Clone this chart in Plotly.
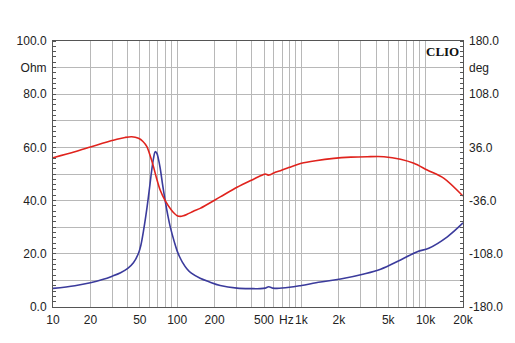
import numpy as np
import plotly.graph_objects as go

# Impedance magnitude (Ohm, left axis)
imp_freq = [10, 15, 20, 25, 30, 35, 40, 44.4, 48.8, 51, 53.5, 56, 58.5, 60.5, 62.4, 64.5,
            66.5, 68.5, 70.5, 72.9, 76, 80, 84, 87.8, 95, 100, 105, 110, 120, 130, 153,
            180, 222, 303, 400, 467, 510, 545, 590, 636, 800, 1000, 1423, 2065, 3187,
            4339, 6285, 8570, 10600, 14960, 20000]
imp_ohm = [7.0, 8.0, 9.1, 10.3, 11.6, 12.9, 14.5, 16.6, 20.2, 23.2, 28.5, 34.5, 41.0, 46.5,
           51.5, 56.0, 58.4, 57.8, 55.8, 52.3, 46.5, 40.0, 34.5, 30.2, 24.3, 21.0, 18.7,
           16.9, 14.3, 12.7, 10.8, 9.5, 8.1, 7.1, 6.9, 6.9, 7.1, 7.6, 7.1, 7.0, 7.4, 8.1,
           9.4, 10.5, 12.4, 14.2, 17.7, 20.8, 22.1, 26.4, 31.6]

# Impedance phase (deg, right axis)
ph_freq = [10, 15, 20, 25, 32.7, 38, 43, 48.8, 53, 57, 60.5, 64.4, 68, 72.9, 80, 90, 95,
           100, 106, 112, 120, 135, 153, 222, 303, 412, 490, 512, 540, 560, 600, 678, 800,
           1000, 1300, 1820, 2500, 3389, 4616, 6285, 8052, 10300, 14060, 20000]
ph_deg = [22, 30, 36.5, 41.5, 47, 49.5, 50.5, 48.3, 44, 37, 25, 10, -5, -21.6, -36, -49,
          -53.5, -56.5, -57.3, -56.5, -54.5, -50.5, -46.5, -31, -18, -7, -1, 0, -1.5, -1,
          1.5, 4.5, 9, 14.5, 18, 21.2, 22.8, 23.4, 23.4, 20, 14.5, 5.4, -5.8, -29.8]

# Frequency grid: 1..9 per decade from 10 Hz to 20 kHz
x_labels = {10: "10", 20: "20", 50: "50", 100: "100", 200: "200", 500: "500",
            1000: "1k", 2000: "2k", 5000: "5k", 10000: "10k", 20000: "20k"}
x_grid = [m * 10 ** d for d in range(1, 5) for m in range(1, 10) if m * 10 ** d <= 20000]
x_text = [x_labels.get(v, "") for v in x_grid]

y_vals = list(range(0, 101, 10))
y_text = ["0.0", "", "20.0", "", "40.0", "", "60.0", "", "80.0", "Ohm", "100.0"]

y2_vals = list(range(-180, 181, 36))
y2_text = ["-180.0", "", "-108.0", "", "-36.0", "", "36.0", "", "108.0", "deg", "180.0"]

font_main = dict(family="Liberation Sans, Arial, sans-serif", size=12, color="#222222")
grid_col = "#b8b8b8"
axis_col = "#555555"

fig = go.Figure()
fig.add_trace(go.Scatter(x=imp_freq, y=imp_ohm, mode="lines", yaxis="y",
                         line=dict(color="#3b3b9c", width=1.6, shape="spline", smoothing=1.0),
                         showlegend=False, hoverinfo="skip"))
fig.add_trace(go.Scatter(x=ph_freq, y=ph_deg, mode="lines", yaxis="y2",
                         line=dict(color="#e0231d", width=1.6, shape="spline", smoothing=0.8),
                         showlegend=False, hoverinfo="skip"))

fig.update_layout(
    width=515, height=343,
    margin=dict(l=53, r=50, t=41, b=36),
    paper_bgcolor="white", plot_bgcolor="white",
    font=font_main,
    xaxis=dict(type="log", range=[1, np.log10(20000)], tickmode="array",
               tickvals=x_grid, ticktext=x_text, showgrid=True, gridcolor=grid_col,
               gridwidth=1, ticks="", showline=True, linecolor=axis_col, linewidth=1,
               mirror=True, zeroline=False, tickfont=font_main, ticklabelstandoff=2),
    yaxis=dict(range=[0, 100], tickmode="array", tickvals=y_vals, ticktext=y_text,
               showgrid=True, gridcolor=grid_col, gridwidth=1, ticks="",
               showline=True, linecolor=axis_col, linewidth=1, mirror=True,
               zeroline=False, tickfont=font_main, ticklabelstandoff=3,
               minor=dict(dtick=2, ticks="inside", ticklen=3, tickcolor=axis_col,
                          showgrid=False)),
    yaxis2=dict(range=[-180, 180], overlaying="y", side="right", tickmode="array",
                tickvals=y2_vals, ticktext=y2_text, showgrid=False, ticks="",
                showline=False, zeroline=False, tickfont=font_main, ticklabelstandoff=5,
                minor=dict(dtick=7.2, ticks="inside", ticklen=3, tickcolor=axis_col)),
)

fig.add_annotation(x=np.log10(757), y=0, xref="x", yref="paper", text="Hz",
                   showarrow=False, yanchor="top", yshift=-4, font=font_main)
fig.add_annotation(x=1, y=1, xref="paper", yref="paper", text="<b>CLIO</b>",
                   showarrow=False, xanchor="right", yanchor="top", xshift=-2, yshift=-1,
                   font=dict(family="Liberation Serif, DejaVu Serif, serif", size=13,
                             color="#111111"))

fig.write_html("out.html")
